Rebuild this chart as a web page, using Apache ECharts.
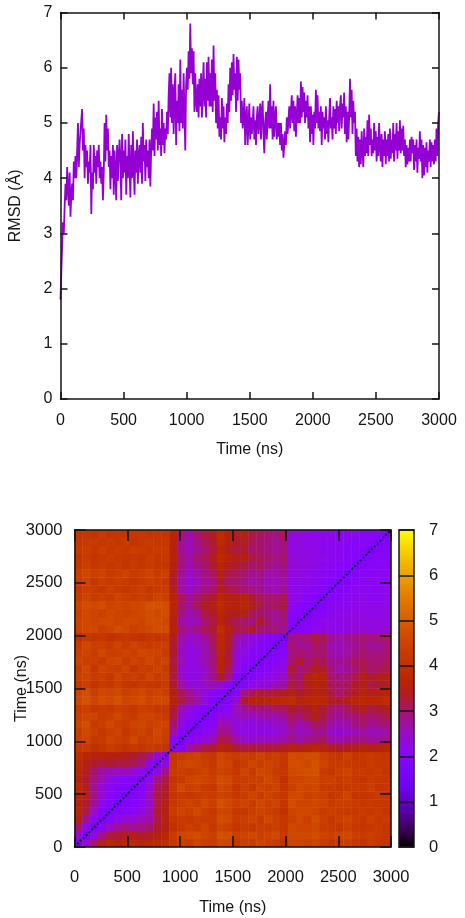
<!DOCTYPE html>
<html><head><meta charset="utf-8">
<style>html,body{margin:0;padding:0;background:#fff}#c{width:465px;height:918px}</style>
<script src="https://cdn.jsdelivr.net/npm/echarts@6/dist/echarts.min.js"></script>
</head><body><div id="c"></div>
<script>
const rmsdMaxTime = 3000;
const rmsd = [
1.8,2.3,2.8,3.2,3.0,3.5,3.9,3.6,4.2,3.8,3.5,4.1,
3.3,3.7,3.9,3.6,4.3,4.0,4.4,4.0,4.5,5.0,4.2,4.6,
4.6,5.05,5.25,4.5,4.9,4.0,4.6,4.2,4.5,3.9,4.3,4.1,
4.6,3.35,4.1,3.8,4.6,4.1,4.4,3.9,4.5,4.2,4.6,4.0,
4.3,3.9,4.2,3.6,4.1,5.0,4.3,5.15,4.5,4.9,4.2,4.5,
3.8,4.4,4.0,4.6,3.7,4.5,4.1,3.6,4.6,3.95,4.4,4.7,
4.3,3.6,4.8,4.0,4.5,4.1,4.7,3.7,4.4,4.0,4.8,4.2,
3.65,4.6,4.0,4.85,4.2,3.7,4.5,4.1,4.7,3.9,4.4,4.6,
4.1,4.75,3.9,5.0,4.3,4.6,3.95,4.7,4.2,4.5,4.0,4.7,
3.85,4.5,4.9,4.5,5.35,4.4,5.1,4.7,5.2,4.5,5.4,4.6,
4.9,4.4,5.25,4.6,5.0,4.45,4.9,4.7,5.2,4.8,5.5,5.9,
5.1,6.0,5.0,5.7,4.8,5.5,5.9,4.6,5.4,5.0,5.7,4.85,
6.15,5.0,5.6,4.9,5.9,5.2,4.5,5.7,6.0,5.6,6.3,5.8,
6.8,5.9,6.35,5.7,6.3,5.2,5.9,5.4,5.2,5.7,5.1,5.8,
5.3,5.9,5.1,5.6,6.1,5.3,5.8,5.1,6.1,5.4,6.2,5.3,
5.9,5.3,6.15,5.2,6.4,5.4,5.9,5.0,5.6,4.9,5.5,4.75,
5.1,4.7,5.45,4.9,5.3,4.65,5.1,4.8,5.35,5.0,5.7,5.2,
6.0,5.4,6.1,5.5,6.25,5.6,5.9,5.2,6.2,5.4,6.15,5.6,
5.9,5.0,5.4,4.9,5.1,5.45,4.6,5.1,5.3,4.6,5.0,5.35,
4.7,5.1,4.8,5.0,5.3,4.7,5.05,4.6,5.1,5.3,4.8,5.0,
5.35,4.7,5.2,5.4,4.8,4.45,5.0,5.2,4.7,5.1,5.4,4.9,
5.7,4.9,5.3,4.7,5.4,4.75,5.1,5.3,4.7,5.0,4.75,5.0,
4.6,5.0,4.5,4.8,4.37,4.6,4.85,4.6,5.1,4.8,5.05,5.3,
4.9,5.2,5.5,5.0,5.4,4.85,5.3,4.75,5.1,5.5,5.0,5.45,
5.0,5.75,5.1,5.65,5.2,5.55,5.0,5.4,5.1,5.5,4.9,5.3,
4.65,5.3,4.8,5.15,4.6,5.2,4.9,5.6,5.0,5.5,4.9,5.2,
4.85,5.3,4.6,5.2,4.9,5.1,4.7,5.3,4.8,5.05,4.65,5.1,
5.45,4.9,5.1,4.7,5.3,4.9,5.25,4.8,5.4,5.0,5.3,4.85,
5.3,5.5,4.9,5.35,5.1,5.55,4.8,5.3,4.65,5.2,4.7,5.1,
5.8,5.1,5.6,4.8,5.4,5.0,5.2,4.4,4.9,4.3,4.75,4.2,
4.7,4.25,4.85,4.5,4.2,4.9,4.4,4.75,4.45,5.05,4.4,5.15,
4.6,4.9,4.4,4.7,4.45,5.0,4.5,4.85,4.3,4.75,4.4,5.0,
4.6,4.3,4.8,4.2,4.7,4.4,4.85,4.25,4.7,4.4,4.8,4.3,
4.9,4.35,4.7,4.45,5.0,4.3,4.8,4.5,5.0,4.35,4.85,4.5,
5.05,4.45,4.9,4.5,4.95,4.4,4.7,4.2,4.6,4.25,4.55,4.3,
4.7,4.3,4.75,4.45,4.7,4.15,4.6,4.3,4.7,4.1,4.55,4.35,
4.85,4.3,4.7,4.0,4.6,4.05,4.55,4.2,4.65,4.1,4.5,4.3,
4.7,4.2,4.65,4.3,4.6,4.25,4.7,4.3,4.9,4.4,5.0,5.2
];
// pairwise RMSD, 75 ns bins, lower triangle (the matrix is symmetric)
const pairwise = [
[1.6],
[2.4,1.6],
[3.0,2.2,1.6],
[3.5,2.8,2.1,1.7],
[3.7,3.2,2.5,1.9,1.7],
[3.5,3.3,2.8,2.2,1.9,1.6],
[3.7,3.4,2.9,2.4,2.0,1.8,1.6],
[3.8,3.4,2.8,2.4,2.1,1.9,1.8,1.6],
[3.6,3.3,2.9,2.6,2.3,2.1,2.0,1.9,1.7],
[3.7,3.4,3.0,2.7,2.6,2.5,2.6,2.4,2.2,1.7],
[3.8,3.5,3.3,3.2,3.3,3.2,3.2,3.1,2.9,2.2,1.8],
[3.9,3.7,3.5,3.6,3.5,3.5,3.4,3.3,3.2,2.9,2.3,1.8],
[4.2,4.3,4.0,4.1,4.3,4.2,4.1,4.2,4.1,4.3,4.2,4.1,1.9],
[4.4,4.5,4.2,4.3,4.5,4.4,4.3,4.6,4.3,4.4,4.5,4.3,1.9,1.7],
[4.3,4.6,4.4,4.2,4.4,4.5,4.2,4.4,4.5,4.3,4.6,4.4,2.7,2.0,1.7],
[4.5,4.7,4.3,4.4,4.6,4.4,4.3,4.5,4.6,4.4,4.5,4.5,3.0,2.2,1.9,1.7],
[4.4,4.5,4.5,4.3,4.4,4.6,4.4,4.3,4.5,4.5,4.4,4.3,3.2,2.4,2.1,1.9,1.7],
[4.3,4.4,4.2,4.3,4.2,4.4,4.3,4.2,4.4,4.3,4.2,4.2,3.3,2.6,2.3,2.0,1.9,1.7],
[4.6,4.8,4.5,4.7,4.6,4.8,4.5,4.6,4.7,4.5,4.6,4.6,3.6,3.2,2.9,2.7,2.3,1.9,1.7],
[4.5,4.7,4.4,4.6,4.5,4.6,4.4,4.5,4.6,4.4,4.5,4.4,3.5,3.1,2.8,2.6,2.3,2.0,1.9,1.7],
[4.2,4.4,4.1,4.3,4.2,4.4,4.2,4.1,4.3,4.2,4.1,4.3,3.3,2.7,2.4,2.3,2.5,2.6,2.4,2.0,1.7],
[4.4,4.5,4.3,4.4,4.2,4.5,4.3,4.4,4.3,4.5,4.3,4.4,3.2,2.5,2.2,2.3,2.6,2.8,3.3,2.9,1.9,1.7],
[4.3,4.6,4.2,4.5,4.4,4.3,4.5,4.2,4.4,4.3,4.5,4.3,3.3,2.4,2.3,2.2,2.5,2.9,3.6,3.1,2.2,1.9,1.7],
[4.5,4.4,4.4,4.3,4.5,4.6,4.3,4.5,4.4,4.6,4.4,4.5,3.2,2.6,2.2,2.4,2.6,3.0,3.6,3.3,2.3,2.1,1.9,1.7],
[4.4,4.5,4.3,4.6,4.4,4.4,4.5,4.4,4.6,4.5,4.5,4.3,3.3,2.5,2.3,2.3,2.7,2.9,3.7,3.2,2.4,2.2,2.0,1.9,1.7],
[4.3,4.6,4.4,4.4,4.3,4.5,4.3,4.5,4.4,4.3,4.4,4.4,3.3,2.6,2.3,2.5,2.6,3.1,3.8,3.3,2.6,2.3,2.2,2.0,1.9,1.7],
[4.0,4.2,4.1,4.2,4.0,4.1,4.2,4.1,4.0,4.2,4.1,4.2,3.4,2.7,2.5,2.5,2.8,3.1,3.8,3.4,2.7,2.5,2.3,2.2,2.0,1.9,1.7],
[4.5,4.6,4.6,4.4,4.5,4.7,4.6,4.4,4.5,4.6,4.7,4.7,3.6,2.9,2.7,2.9,3.1,3.3,3.9,3.5,3.2,3.1,3.3,3.0,2.9,3.0,2.8,1.8],
[4.5,4.6,4.5,4.6,4.6,4.5,4.6,4.6,4.5,4.7,4.7,4.6,3.5,2.7,2.6,2.6,3.0,3.2,3.6,3.3,3.1,3.0,2.9,3.3,3.0,2.8,2.9,1.9,1.7],
[4.4,4.6,4.5,4.4,4.6,4.5,4.4,4.5,4.6,4.7,4.6,4.7,3.6,2.9,2.6,2.8,3.2,3.3,3.7,3.4,3.4,3.5,3.1,3.0,2.9,2.8,3.0,2.0,1.9,1.7],
[4.5,4.7,4.6,4.7,4.5,4.6,4.5,4.6,4.6,4.8,4.8,4.7,3.7,3.0,2.8,3.1,3.4,3.5,3.8,3.6,3.6,3.7,3.4,3.2,3.0,3.1,3.2,2.2,2.0,1.9,1.7],
[4.3,4.5,4.3,4.4,4.3,4.5,4.4,4.3,4.4,4.3,4.5,4.4,3.6,3.1,2.8,3.0,3.2,3.3,3.7,3.5,3.5,3.6,3.3,3.1,3.0,3.0,3.1,2.3,2.2,2.0,1.9,1.7],
[4.2,4.4,4.3,4.2,4.4,4.3,4.2,4.3,4.4,4.2,4.3,4.3,3.4,2.7,2.5,2.7,2.9,3.0,3.4,3.2,3.1,3.0,2.9,2.8,2.7,2.6,2.8,2.2,2.2,2.1,2.0,1.9,1.7],
[4.3,4.5,4.2,4.4,4.3,4.4,4.3,4.2,4.3,4.4,4.3,4.2,3.3,2.7,2.4,2.6,2.8,2.9,3.3,3.0,3.0,2.9,2.7,2.8,2.6,2.6,2.7,2.2,2.2,2.2,2.1,2.0,1.9,1.7],
[4.4,4.6,4.4,4.5,4.3,4.4,4.5,4.3,4.4,4.5,4.3,4.4,3.4,2.8,2.5,2.7,2.9,3.1,3.5,3.2,3.1,3.0,2.8,2.9,2.7,2.7,2.8,2.3,2.3,2.2,2.1,2.1,2.0,1.9,1.7],
[4.2,4.4,4.2,4.3,4.2,4.3,4.1,4.3,4.2,4.3,4.2,4.1,3.5,2.9,2.6,2.9,3.0,3.3,3.7,3.4,3.3,3.2,3.0,3.1,2.9,2.8,2.9,2.4,2.3,2.3,2.2,2.1,2.1,2.0,1.9,1.7],
[4.1,4.3,4.1,4.2,4.3,4.2,4.1,4.2,4.1,4.3,4.1,4.2,3.6,2.9,2.7,3.0,3.1,3.4,3.8,3.6,3.4,3.5,3.2,3.1,3.0,2.9,3.0,2.4,2.3,2.3,2.2,2.2,2.1,2.1,2.0,1.9,1.7],
[4.3,4.4,4.2,4.4,4.2,4.3,4.2,4.4,4.3,4.2,4.3,4.3,3.5,2.8,2.6,2.8,3.0,3.2,3.7,3.4,3.2,3.3,3.0,3.0,2.9,2.8,2.9,2.3,2.3,2.2,2.2,2.1,2.1,2.1,2.0,2.0,1.9,1.7],
[4.2,4.3,4.3,4.2,4.3,4.2,4.3,4.1,4.2,4.3,4.2,4.2,3.6,2.8,2.6,2.9,3.1,3.3,3.8,3.5,3.3,3.4,3.1,3.0,2.9,2.8,3.0,2.3,2.3,2.2,2.2,2.1,2.1,2.1,2.1,2.0,2.0,1.9,1.7],
[4.1,4.2,4.1,4.3,4.1,4.2,4.1,4.2,4.2,4.1,4.2,4.1,3.7,2.9,2.7,3.0,3.2,3.4,3.9,3.6,3.4,3.5,3.2,3.1,3.0,2.9,3.1,2.4,2.3,2.3,2.2,2.2,2.2,2.1,2.1,2.1,2.0,2.0,1.9,1.7]
];
const binLabels = pairwise.map((_, i) => String(i));
const colorStops = ['#000000','#37004b','#4f0090','#6001c7','#6f02ed','#7c03fe','#8806f8','#9309dd','#9d0ead','#a7146f','#b01c26','#b82500','#c13000','#c93c00','#d04b00','#d75d00','#de7100','#e58700','#eca100','#f2bd00','#f9dc00','#ffff00'];
const diagonal = [[0,0],[3000,3000]];

const heatData = [];
pairwise.forEach((row, i) => row.forEach((v, j) => {
  heatData.push([j, i, v]);
  if (i !== j) heatData.push([i, j, v]);
}));
const lineData = rmsd.map((v, i) => [i * rmsdMaxTime / (rmsd.length - 1), v]);

const FONT = '"Liberation Sans", Arial, sans-serif', INK = '#151515';
const line = {show:true, onZero:false, lineStyle:{color:INK, width:1.5}};
const valueAxis = (o) => Object.assign({
  type:'value', z:10, splitLine:{show:false},
  axisLine:line,
  axisTick:{show:true, inside:true, length:o.tick||7, lineStyle:{color:INK, width:1.5}},
  axisLabel:{show:!!o.labels, color:INK, fontFamily:FONT, fontSize:o.size||16, margin:o.margin||8, formatter:(v)=>String(v)},
  nameMoveOverlap:false,
  nameTextStyle:{color:INK, fontFamily:FONT, fontSize:16}
}, o.opt);
const box = {outerBoundsMode:'none'};

const option = {
  animation:false,
  backgroundColor:'#fff',
  grid:[
    {...box, left:60.5, top:12.5, width:378.5, height:386.5},
    {...box, left:74.5, top:530, width:316.5, height:317},
    {...box, left:74.5, top:530, width:316.5, height:317},
    {...box, left:399, top:530, width:15, height:317}
  ],
  visualMap:[{type:'continuous', seriesIndex:1, min:0, max:7, calculable:false, show:true,
    left:399, top:530, itemWidth:15, itemHeight:317, padding:0, text:null, showLabel:false,
    textStyle:{fontSize:0}, inRange:{color:colorStops}}],
  xAxis:[
    valueAxis({labels:true, margin:14, opt:{gridIndex:0, position:'bottom', min:0, max:3000, interval:500, name:'Time (ns)', nameLocation:'middle', nameGap:43}}),
    valueAxis({opt:{gridIndex:0, position:'top', min:0, max:3000, interval:500}}),
    {type:'category', gridIndex:1, data:binLabels, show:false},
    valueAxis({labels:true, tick:11, size:16.5, margin:22, opt:{gridIndex:2, position:'bottom', min:0, max:3000, interval:500, name:'Time (ns)', nameLocation:'middle', nameGap:53}}),
    valueAxis({tick:11, opt:{gridIndex:2, position:'top', min:0, max:3000, interval:500}}),
    valueAxis({tick:0, opt:{gridIndex:3, position:'bottom', min:0, max:1, interval:1, axisTick:{show:false}}}),
    valueAxis({tick:0, opt:{gridIndex:3, position:'top', min:0, max:1, interval:1, axisTick:{show:false}}})
  ],
  yAxis:[
    valueAxis({labels:true, margin:8, opt:{gridIndex:0, position:'left', min:0, max:7, interval:1, name:'RMSD (Å)', nameLocation:'middle', nameGap:37}}),
    valueAxis({opt:{gridIndex:0, position:'right', min:0, max:7, interval:1}}),
    {type:'category', gridIndex:1, data:binLabels, show:false},
    valueAxis({labels:true, tick:11, size:16.5, margin:12, opt:{gridIndex:2, position:'left', min:0, max:3000, interval:500, name:'Time (ns)', nameLocation:'middle', nameGap:45}}),
    valueAxis({tick:11, opt:{gridIndex:2, position:'right', min:0, max:3000, interval:500}}),
    valueAxis({tick:15, labels:true, size:16.5, margin:15, opt:{gridIndex:3, position:'right', min:0, max:7, interval:1}}),
    valueAxis({tick:0, opt:{gridIndex:3, position:'left', min:0, max:7, interval:7, axisTick:{show:false}}})
  ],
  series:[
    {type:'line', xAxisIndex:0, yAxisIndex:0, data:lineData, showSymbol:false, sampling:null,
     lineStyle:{color:'#9400d3', width:1.8}, z:3},
    {type:'heatmap', xAxisIndex:2, yAxisIndex:2, data:heatData, progressive:0, itemStyle:{borderWidth:0}, emphasis:{disabled:true}},
    {type:'line', xAxisIndex:3, yAxisIndex:3, data:diagonal, showSymbol:false,
     lineStyle:{color:'#0a0020', width:2, type:[2,2]}, z:5}
  ]
};
const chart = echarts.init(document.getElementById('c'), null, {renderer:'canvas'});
chart.setOption(option);
</script></body></html>
